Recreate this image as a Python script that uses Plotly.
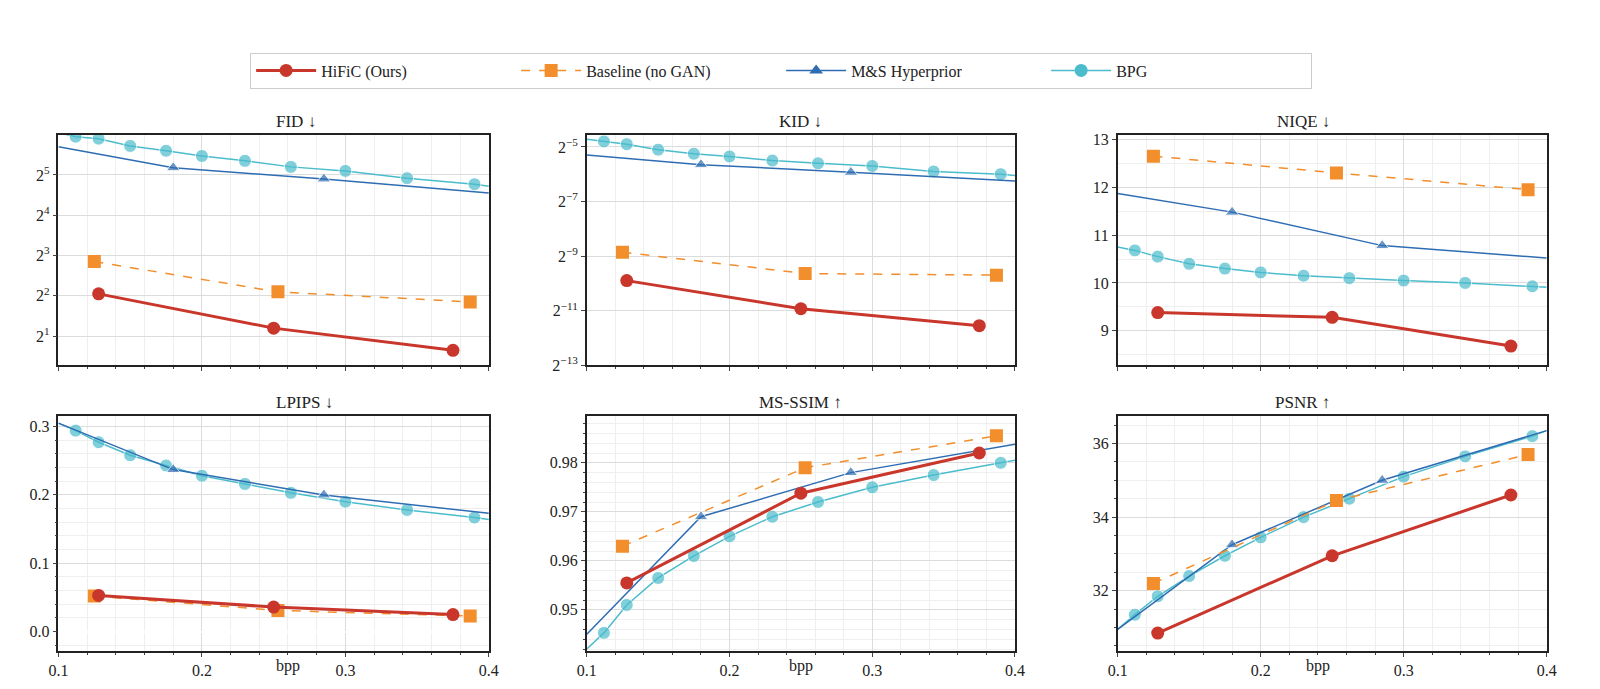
import plotly.graph_objects as go
import math

# ---------------- data ----------------
hific_x = [0.128, 0.25, 0.375]
base_x = [0.125, 0.253, 0.387]
ms_x = [0.1, 0.18, 0.285, 0.4]
bpg_x = [0.1, 0.112, 0.128, 0.15, 0.175, 0.2, 0.23, 0.262, 0.3, 0.343, 0.39, 0.4]
ms_marker = [0, 12, 12, 0]
bpg_marker = [0, 13, 13, 13, 13, 13, 13, 13, 13, 13, 13, 0]

fid_hific = [2**2.05, 2**1.2, 2**0.65]
fid_base = [2**2.85, 2**2.1, 2**1.85]
fid_ms = [2**5.7, 2**5.18, 2**4.9, 2**4.55]
fid_bpg = [2**6.05, 2**5.95, 2**5.9, 2**5.72, 2**5.6, 2**5.47, 2**5.35, 2**5.2, 2**5.1, 2**4.92, 2**4.77, 2**4.72]

kid_hific = [2**-9.9, 2**-10.93, 2**-11.55]
kid_base = [2**-8.86, 2**-9.64, 2**-9.7]
kid_ms = [2**-5.3, 2**-5.65, 2**-5.93, 2**-6.25]
kid_bpg = [2**-4.72, 2**-4.8, 2**-4.9, 2**-5.1, 2**-5.25, 2**-5.35, 2**-5.5, 2**-5.6, 2**-5.7, 2**-5.9, 2**-6.0, 2**-6.05]

niqe_hific = [9.38, 9.28, 8.68]
niqe_base = [12.65, 12.3, 11.95]
niqe_ms = [11.87, 11.48, 10.78, 10.52]
niqe_bpg = [10.75, 10.68, 10.55, 10.4, 10.3, 10.22, 10.15, 10.1, 10.05, 10.0, 9.93, 9.91]

lpips_hific = [0.053, 0.036, 0.025]
lpips_base = [0.052, 0.031, 0.023]
lpips_ms = [0.305, 0.237, 0.2, 0.173]
lpips_bpg = [0.305, 0.294, 0.277, 0.258, 0.243, 0.228, 0.216, 0.203, 0.19, 0.178, 0.167, 0.164]

msssim_hific = [0.9555, 0.9738, 0.982]
msssim_base = [0.963, 0.979, 0.9855]
msssim_ms = [0.945, 0.969, 0.978, 0.9838]
msssim_bpg = [0.942, 0.9453, 0.951, 0.9565, 0.961, 0.965, 0.969, 0.972, 0.975, 0.9775, 0.980, 0.9805]

psnr_hific = [30.85, 32.95, 34.6]
psnr_base = [32.2, 34.45, 35.7]
psnr_ms = [30.95, 33.25, 35.0, 36.35]
psnr_bpg = [30.95, 31.35, 31.85, 32.4, 32.95, 33.45, 34.0, 34.5, 35.1, 35.65, 36.2, 36.35]

titles = ["FID ↓", "KID ↓", "NIQE ↓", "LPIPS ↓", "MS-SSIM ↑", "PSNR ↑"]
x_ticks = [0.1, 0.2, 0.3, 0.4]

RED, ORANGE, BLUE, CYAN = "#c9372c", "#f28e2b", "#2f6db3", "#4bbccc"
FONT = "Liberation Serif"

panels = [
    (fid_hific, fid_base, fid_ms, fid_bpg),
    (kid_hific, kid_base, kid_ms, kid_bpg),
    (niqe_hific, niqe_base, niqe_ms, niqe_bpg),
    (lpips_hific, lpips_base, lpips_ms, lpips_bpg),
    (msssim_hific, msssim_base, msssim_ms, msssim_bpg),
    (psnr_hific, psnr_base, psnr_ms, psnr_bpg),
]

xdoms = [[0.0256, 0.298], [0.36, 0.631], [0.696, 0.9675]]
ydoms = [[0.4775, 0.8186], [0.054, 0.402]]

fig = go.Figure()
for i, (h, b, m, c) in enumerate(panels):
    ax = "" if i == 0 else str(i + 1)
    xr, yr = "x" + ax, "y" + ax
    show = i == 0
    fig.add_trace(go.Scatter(x=bpg_x, y=c, mode="lines+markers", name="BPG",
        line=dict(color=CYAN, width=1.5), marker=dict(symbol="circle", size=bpg_marker, color=CYAN),
        xaxis=xr, yaxis=yr, showlegend=False, cliponaxis=True))
    fig.add_trace(go.Scatter(x=ms_x, y=m, mode="lines+markers", name="M&S Hyperprior",
        line=dict(color=BLUE, width=1.5), marker=dict(symbol="triangle-up", size=ms_marker, color=BLUE),
        xaxis=xr, yaxis=yr, showlegend=False))
    fig.add_trace(go.Scatter(x=base_x, y=b, mode="lines+markers", name="Baseline (no GAN)",
        line=dict(color=ORANGE, width=1.5, dash="dash"), marker=dict(symbol="square", size=13, color=ORANGE),
        xaxis=xr, yaxis=yr, showlegend=show, legendrank=2))
    fig.add_trace(go.Scatter(x=hific_x, y=h, mode="lines+markers", name="HiFiC (Ours)",
        line=dict(color=RED, width=3), marker=dict(symbol="circle", size=13, color=RED),
        xaxis=xr, yaxis=yr, showlegend=show, legendrank=1))
    if show:
        fig.add_trace(go.Scatter(x=[None], y=[None], mode="lines+markers", name="M&S Hyperprior",
            line=dict(color=BLUE, width=1.5), marker=dict(symbol="triangle-up", size=12, color=BLUE),
            xaxis=xr, yaxis=yr, legendrank=3))
        fig.add_trace(go.Scatter(x=[None], y=[None], mode="lines+markers", name="BPG",
            line=dict(color=CYAN, width=1.5), marker=dict(symbol="circle", size=13, color=CYAN),
            xaxis=xr, yaxis=yr, legendrank=4))

axis_common = dict(showline=True, linecolor="#222", linewidth=1.5, mirror=True,
                   showgrid=True, gridcolor="#dcdcdc", ticks="outside", ticklen=4,
                   tickfont=dict(size=16, family=FONT, color="#222"))

log2 = lambda v: v * math.log10(2)
yspecs = [
    dict(type="log", range=[log2(0.28), log2(6.0)], tickvals=[2, 4, 8, 16, 32],
         ticktext=["2<sup>1</sup>", "2<sup>2</sup>", "2<sup>3</sup>", "2<sup>4</sup>", "2<sup>5</sup>"]),
    dict(type="log", range=[log2(-13), log2(-4.55)], tickvals=[2**-13, 2**-11, 2**-9, 2**-7, 2**-5],
         ticktext=["2<sup>−13</sup>", "2<sup>−11</sup>", "2<sup>−9</sup>", "2<sup>−7</sup>", "2<sup>−5</sup>"]),
    dict(range=[8.28, 13.1], tickvals=[9, 10, 11, 12, 13], minor=dict(dtick=0.5, showgrid=True, gridcolor="#efefef")),
    dict(range=[-0.029, 0.315], tickvals=[0.0, 0.1, 0.2, 0.3], tickformat=".1f",
         minor=dict(dtick=0.02, showgrid=True, gridcolor="#efefef", ticks="outside", ticklen=2)),
    dict(range=[0.9415, 0.9895], tickvals=[0.95, 0.96, 0.97, 0.98],
         minor=dict(dtick=0.002, showgrid=True, gridcolor="#efefef", ticks="outside", ticklen=2)),
    dict(range=[30.35, 36.74], tickvals=[32, 34, 36],
         minor=dict(dtick=0.5, showgrid=True, gridcolor="#efefef", ticks="outside", ticklen=2)),
]

for i in range(6):
    r, c = divmod(i, 3)
    key = "" if i == 0 else str(i + 1)
    xa = dict(axis_common, domain=xdoms[c], range=[0.1, 0.4], tickvals=x_ticks,
              showticklabels=(r == 1), anchor="y" + key,
              minor=dict(dtick=0.02, tick0=0.1, showgrid=True, gridcolor="#efefef", ticks="outside", ticklen=2))
    if r == 1:
        xa["ticktext"] = ["0.1", "0.2", "0.3", "0.4"]
    ya = dict(axis_common, domain=ydoms[r], anchor="x" + key, **yspecs[i])
    fig.layout["xaxis" + key] = xa
    fig.layout["yaxis" + key] = ya
    fig.add_annotation(text=titles[i], x=sum(xdoms[c]) / 2, y=ydoms[r][1], xref="paper", yref="paper",
                       yanchor="bottom", showarrow=False, yshift=2, font=dict(size=17, family=FONT, color="#222"))
    if r == 1:
        fig.add_annotation(text="bpp", x=xdoms[c][0] + (xdoms[c][1] - xdoms[c][0]) * 0.5, y=ydoms[r][0],
                           xref="paper", yref="paper", yanchor="top", showarrow=False, yshift=-4,
                           font=dict(size=16, family=FONT, color="#222"))

fig.update_layout(
    width=1600, height=689, margin=dict(l=0, r=0, t=0, b=0),
    plot_bgcolor="white", paper_bgcolor="white",
    font=dict(family=FONT, color="#222"),
    legend=dict(orientation="h", x=0.483, xanchor="center", y=0.94, yanchor="top",
                bordercolor="#cccccc", borderwidth=1, font=dict(size=16, family=FONT),
                itemwidth=60, entrywidth=190, traceorder="normal"),
)

fig.write_html("out.html")
